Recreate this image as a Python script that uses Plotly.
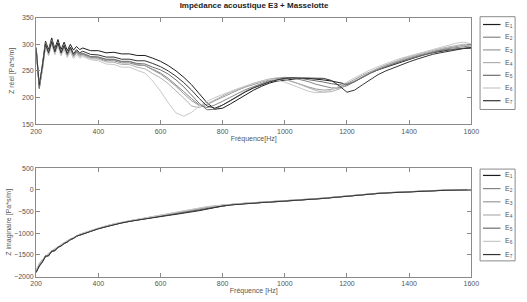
import plotly.graph_objects as go

freq = [200, 210, 220, 230, 240, 250, 260, 270, 280, 290, 300, 310, 320, 330, 340,
        350, 375, 400, 425, 450, 475, 500, 525, 550, 575, 600, 625, 650, 675, 700, 725,
        750, 775, 800, 825, 850, 875, 900, 925, 950, 975, 1000, 1025, 1050, 1075, 1100,
        1125, 1150, 1175, 1200, 1225, 1250, 1275, 1300, 1325, 1350, 1375, 1400, 1425,
        1450, 1475, 1500, 1525, 1550, 1575, 1600]

series_names = ["E<sub>1</sub>", "E<sub>2</sub>", "E<sub>3</sub>", "E<sub>4</sub>",
                "E<sub>5</sub>", "E<sub>6</sub>", "E<sub>7</sub>"]
series_colors = ["#1c1c1c", "#858585", "#9a9a9a", "#b0b0b0", "#6e6e6e", "#c8c8c8", "#333333"]

real_E1 = [294, 220, 262, 306, 290, 312, 292, 309, 290, 304, 288, 300, 289, 296, 290,
           293, 288, 288, 284, 285, 282, 282, 279, 279, 274, 268, 260, 250, 238, 224, 207, 190, 178, 180, 188,
           197, 206, 214, 221, 227, 231, 233, 235, 236, 236, 235, 233, 231, 228, 225, 230, 238, 246, 252, 257,
           262, 267, 272, 277, 281, 284, 287, 289, 291, 293, 294]
real_E2 = [292, 216, 254, 298, 280, 303, 282, 300, 281, 295, 278, 291, 277, 285, 279,
           281, 275, 274, 269, 269, 265, 265, 261, 260, 253, 246, 236, 224, 211, 198, 186, 181, 186, 193, 201,
           208, 215, 221, 227, 232, 236, 238, 237, 234, 230, 225, 221, 218, 218, 222, 230, 238, 246, 253, 259,
           264, 269, 274, 278, 282, 286, 289, 292, 294, 296, 297]
real_E3 = [289, 222, 260, 303, 286, 308, 288, 304, 286, 299, 283, 294, 281, 288, 282,
           283, 277, 276, 271, 271, 267, 267, 262, 260, 252, 244, 233, 221, 207, 194, 185, 187, 194, 201, 208,
           214, 220, 225, 229, 233, 235, 234, 230, 225, 220, 216, 214, 215, 219, 226, 234, 242, 249, 255, 261,
           266, 271, 275, 279, 283, 287, 290, 293, 296, 298, 299]
real_E4 = [286, 219, 252, 297, 281, 302, 283, 299, 280, 293, 277, 289, 276, 283, 277,
           279, 273, 272, 267, 266, 262, 262, 257, 254, 245, 237, 226, 213, 199, 184, 181, 188, 196, 203, 210,
           216, 222, 227, 231, 235, 237, 235, 230, 224, 218, 213, 210, 211, 216, 224, 232, 240, 248, 255, 261,
           267, 272, 277, 281, 285, 289, 292, 295, 298, 300, 300]
real_E5 = [288, 218, 256, 302, 282, 307, 285, 302, 283, 297, 280, 293, 279, 287, 281,
           283, 277, 276, 272, 272, 268, 268, 264, 263, 257, 252, 244, 233, 220, 205, 189, 177, 178, 186, 195,
           204, 212, 219, 225, 230, 234, 236, 237, 236, 234, 232, 229, 226, 224, 224, 230, 238, 246, 252, 258,
           263, 268, 272, 277, 281, 285, 288, 290, 291, 292, 293]
real_E6 = [290, 225, 250, 296, 278, 300, 280, 296, 278, 290, 275, 286, 273, 280, 274,
           277, 271, 269, 263, 262, 257, 257, 251, 246, 231, 212, 190, 171, 165, 172, 184, 193, 200, 206, 212,
           217, 222, 227, 231, 234, 233, 229, 223, 217, 212, 209, 210, 214, 221, 229, 237, 245, 252, 258, 264,
           269, 274, 278, 282, 286, 290, 294, 298, 302, 304, 301]
real_E7 = [290, 224, 258, 300, 284, 305, 286, 303, 284, 298, 283, 295, 282, 290, 284,
           287, 281, 280, 276, 276, 272, 272, 269, 269, 264, 258, 250, 240, 228, 214, 198, 184, 180, 186, 194,
           203, 211, 218, 224, 229, 233, 236, 237, 237, 237, 237, 236, 232, 222, 210, 214, 224, 234, 243, 250,
           256, 262, 267, 272, 277, 281, 284, 287, 290, 292, 293]

imag_E1 = [-1900, -1700, -1650, -1520, -1510, -1410, -1400, -1320, -1290, -1230, -1200, -1140, -1120, -1065, -1045,
           -1015, -955, -895, -845, -800, -760, -725, -695, -665, -640, -610, -585, -560, -530, -500, -470,
           -435, -400, -370, -348, -330, -314, -303, -292, -282, -272, -262, -252, -240, -227, -212, -197,
           -180, -162, -142, -124, -110, -96, -83, -71, -61, -51, -43, -35, -28, -21, -15, -9, -5, -1, 2]
imag_E2 = [-1860, -1740, -1630, -1550, -1490, -1430, -1380, -1340, -1275, -1245, -1185, -1155, -1105, -1075, -1035,
           -1008, -948, -888, -838, -793, -753, -718, -688, -657, -627, -596, -565, -533, -497, -462, -432,
           -403, -380, -357, -338, -323, -309, -299, -289, -279, -269, -259, -249, -237, -224, -209, -194,
           -177, -159, -139, -121, -107, -94, -81, -69, -59, -49, -41, -33, -26, -19, -13, -7, -3, 1, 4]
imag_E3 = [-1870, -1730, -1620, -1560, -1480, -1440, -1370, -1345, -1270, -1250, -1180, -1160, -1100, -1080, -1030,
           -1005, -945, -886, -836, -791, -751, -716, -686, -655, -624, -592, -560, -527, -490, -455, -425,
           -398, -376, -354, -336, -322, -308, -298, -288, -278, -268, -258, -248, -236, -223, -208, -193,
           -176, -158, -138, -120, -106, -93, -80, -68, -58, -48, -40, -32, -25, -18, -12, -6, -2, 2, 5]
imag_E4 = [-1850, -1710, -1610, -1530, -1470, -1410, -1360, -1320, -1265, -1230, -1175, -1140, -1095, -1065, -1025,
           -1000, -940, -882, -832, -787, -747, -712, -682, -650, -618, -585, -552, -518, -480, -445, -417,
           -392, -372, -351, -334, -320, -307, -297, -287, -277, -267, -257, -247, -235, -222, -207, -192,
           -175, -157, -137, -119, -105, -92, -79, -67, -57, -47, -39, -31, -24, -17, -11, -5, -1, 3, 6]
imag_E5 = [-1890, -1760, -1660, -1540, -1520, -1420, -1410, -1330, -1300, -1240, -1210, -1150, -1125, -1070, -1050,
           -1018, -958, -897, -847, -802, -762, -727, -697, -667, -640, -612, -588, -562, -535, -505, -475,
           -440, -402, -372, -349, -331, -315, -304, -293, -283, -273, -263, -253, -241, -228, -213, -198,
           -181, -163, -143, -125, -111, -97, -84, -72, -62, -52, -44, -36, -29, -22, -16, -10, -6, -2, 1]
imag_E6 = [-1840, -1700, -1600, -1520, -1460, -1400, -1350, -1310, -1260, -1220, -1170, -1135, -1090, -1060, -1020,
           -998, -938, -880, -830, -785, -745, -710, -680, -648, -615, -580, -545, -510, -470, -438, -412,
           -388, -368, -349, -333, -319, -306, -296, -286, -276, -266, -256, -246, -234, -221, -206, -191,
           -174, -156, -136, -118, -104, -91, -78, -66, -56, -46, -38, -30, -23, -16, -10, -4, 0, 4, 7]
imag_E7 = [-1910, -1750, -1670, -1530, -1525, -1415, -1405, -1325, -1295, -1235, -1205, -1145, -1120, -1068, -1048,
           -1020, -960, -898, -848, -803, -763, -728, -698, -668, -642, -615, -592, -566, -540, -512, -482,
           -445, -405, -373, -350, -332, -316, -305, -294, -284, -274, -264, -254, -242, -229, -214, -199,
           -182, -164, -144, -126, -112, -98, -85, -73, -63, -53, -45, -37, -30, -23, -17, -11, -7, -3, 0]

real_series = [real_E1, real_E2, real_E3, real_E4, real_E5, real_E6, real_E7]
imag_series = [imag_E1, imag_E2, imag_E3, imag_E4, imag_E5, imag_E6, imag_E7]

x_ticks = [200, 400, 600, 800, 1000, 1200, 1400, 1600]
real_ticks = [150, 200, 250, 300, 350]
imag_ticks = [-2000, -1500, -1000, -500, 0, 500]

W, H = 527, 302
FONT = "Liberation Sans, Arial, sans-serif"
AXIS_COL = "#8a8a8a"
TXT_COL = "#555555"
FS = 7

fig = go.Figure()
for name, col, ys in zip(series_names, series_colors, real_series):
    fig.add_trace(go.Scatter(x=freq, y=ys, mode="lines", name=name,
                             line=dict(color=col, width=1), xaxis="x", yaxis="y",
                             showlegend=False))
for name, col, ys in zip(series_names, series_colors, imag_series):
    fig.add_trace(go.Scatter(x=freq, y=ys, mode="lines", name=name,
                             line=dict(color=col, width=1), xaxis="x2", yaxis="y2",
                             showlegend=False))

def px_x(p):
    return p / W

def px_y(p):
    return 1 - p / H

xdom = [px_x(31), px_x(478)]
common_x = dict(range=[200, 1600], tickvals=x_ticks, ticks="inside", ticklen=4,
                tickcolor=AXIS_COL, showline=True, linecolor=AXIS_COL, linewidth=1,
                mirror="ticks", showgrid=False, zeroline=False,
                tickfont=dict(size=FS, color=TXT_COL, family=FONT), domain=xdom)
common_y = dict(ticks="inside", ticklen=4, tickcolor=AXIS_COL, showline=True,
                linecolor=AXIS_COL, linewidth=1, mirror="ticks", showgrid=False,
                zeroline=False, tickfont=dict(size=FS, color=TXT_COL, family=FONT))

fig.update_layout(
    width=W, height=H, margin=dict(l=0, r=0, t=0, b=0),
    paper_bgcolor="white", plot_bgcolor="white",
    font=dict(family=FONT, size=FS, color=TXT_COL),
    title=dict(text="<b>Impédance acoustique E3 + Masselotte</b>", x=px_x(254),
               xanchor="center", y=px_y(5), yanchor="middle",
               font=dict(size=8, color="#222222", family=FONT)),
    xaxis=dict(**common_x, anchor="y",
               title=dict(text="Fréquence[Hz]", standoff=2, font=dict(size=FS, color=TXT_COL))),
    yaxis=dict(**common_y, range=[150, 350], tickvals=real_ticks, anchor="x",
               domain=[px_y(123), px_y(14)],
               title=dict(text="Z réel [Pa*s/m]", standoff=6, font=dict(size=FS, color=TXT_COL))),
    xaxis2=dict(**common_x, anchor="y2",
                title=dict(text="Fréquence [Hz]", standoff=2, font=dict(size=FS, color=TXT_COL))),
    yaxis2=dict(**common_y, range=[-2000, 500], tickvals=imag_ticks, anchor="x2",
                domain=[px_y(279), px_y(168)],
                title=dict(text="Z imaginaire [Pa*s/m]", standoff=1, font=dict(size=FS, color=TXT_COL))),
)

# Manual legends (box, line samples, labels)
shapes = []
annotations = []
for (top, bottom, first, step) in [(13, 108, 21, 13.0), (169, 263, 175.5, 13.5)]:
    shapes.append(dict(type="rect", xref="paper", yref="paper",
                       x0=px_x(487), x1=px_x(523), y0=px_y(bottom), y1=px_y(top),
                       line=dict(color=AXIS_COL, width=1), fillcolor="white"))
    for i, (name, col) in enumerate(zip(series_names, series_colors)):
        yc = first + i * step
        shapes.append(dict(type="line", xref="paper", yref="paper",
                           x0=px_x(490), x1=px_x(508), y0=px_y(yc), y1=px_y(yc),
                           line=dict(color=col, width=1.2)))
        annotations.append(dict(text=name, xref="paper", yref="paper",
                                x=px_x(511), y=px_y(yc), xanchor="left", yanchor="middle",
                                showarrow=False, font=dict(size=FS, color=TXT_COL, family=FONT)))
fig.update_layout(shapes=shapes, annotations=annotations)

fig.write_html("out.html")
